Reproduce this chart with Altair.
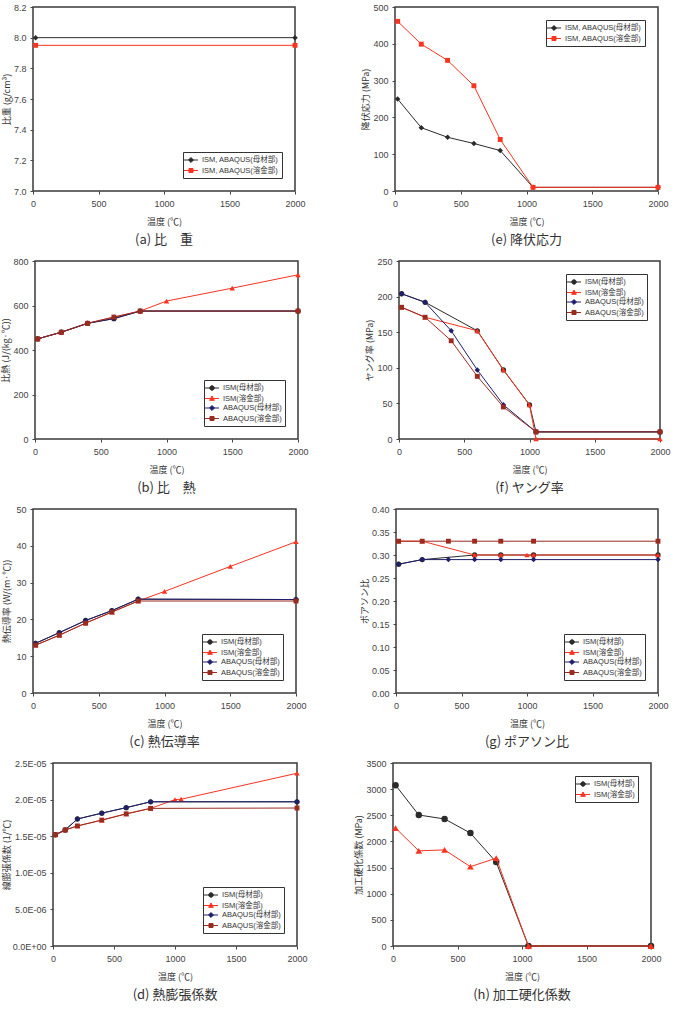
import altair as alt
import pandas as pd

# ---------------- data ----------------
TEMP_TICKS = [0, 500, 1000, 1500, 2000]

# (a) specific gravity
A_X = [20, 2000]
A_BASE = [8.0, 8.0]
A_WELD = [7.95, 7.95]

# (e) yield stress
E_X = [20, 200, 400, 600, 800, 1050, 2000]
E_BASE = [250, 172, 146, 129, 110, 10, 10]
E_WELD = [461, 399, 355, 286, 140, 10, 10]

# (b) specific heat
B_X_ISM_BASE = [20, 200, 400, 600, 800, 2000]
B_ISM_BASE = [450, 480, 520, 541, 575, 575]
B_X_ISM_WELD = [20, 200, 400, 600, 800, 1000, 1500, 2000]
B_ISM_WELD = [450, 480, 520, 548, 575, 620, 678, 738]
B_X_ABQ = [20, 200, 400, 600, 800, 2000]
B_ABQ_BASE = [450, 480, 520, 541, 575, 575]
B_ABQ_WELD = [450, 480, 520, 548, 575, 575]

# (f) Young's modulus
F_X_ISM = [20, 200, 600, 800, 1000, 1050, 2000]
F_ISM_BASE = [204, 192, 152, 97, 48, 10, 10]
F_ISM_WELD = [185, 171, 152, 97, 48, 0, 0]
F_X_ABQ = [20, 200, 400, 600, 800, 1050, 2000]
F_ABQ_BASE = [204, 192, 152, 97, 48, 10, 10]
F_ABQ_WELD = [185, 171, 138, 88, 45, 10, 10]

# (c) thermal conductivity
C_X_BASE = [20, 200, 400, 600, 800, 2000]
C_ISM_BASE = [13.5, 16.4, 19.7, 22.4, 25.5, 25.4]
C_X_ISM_WELD = [20, 200, 400, 600, 800, 1000, 1500, 2000]
C_ISM_WELD = [13.0, 15.7, 19.0, 22.0, 25.0, 27.6, 34.4, 41.1]
C_ABQ_BASE = [13.5, 16.4, 19.7, 22.4, 25.5, 25.4]
C_ABQ_WELD = [13.0, 15.7, 19.0, 22.0, 25.0, 25.0]

# (g) Poisson's ratio
G_X_ISM_BASE = [20, 200, 600, 800, 1050, 2000]
G_ISM_BASE = [0.28, 0.29, 0.30, 0.30, 0.30, 0.30]
G_X_ISM_WELD = [20, 200, 600, 800, 1000, 1050, 2000]
G_ISM_WELD = [0.33, 0.33, 0.30, 0.30, 0.30, 0.30, 0.30]
G_X_ABQ = [20, 200, 400, 600, 800, 1050, 2000]
G_ABQ_BASE = [0.28, 0.29, 0.29, 0.29, 0.29, 0.29, 0.29]
G_ABQ_WELD = [0.33, 0.33, 0.33, 0.33, 0.33, 0.33, 0.33]

# (d) thermal expansion coefficient (x 1e-6)
D_X_BASE = [20, 100, 200, 400, 600, 800, 2000]
D_ISM_BASE = [15.2, 15.85, 17.35, 18.15, 18.9, 19.7, 19.7]
D_X_ISM_WELD = [20, 100, 200, 400, 600, 800, 1000, 1050, 2000]
D_ISM_WELD = [15.2, 15.85, 16.4, 17.2, 18.05, 18.8, 20.0, 20.05, 23.6]
D_ABQ_BASE = [15.2, 15.85, 17.35, 18.15, 18.9, 19.7, 19.7]
D_ABQ_WELD = [15.2, 15.85, 16.4, 17.2, 18.05, 18.8, 18.85]
D_TICKS = [0, 5, 10, 15, 20, 25]

# (h) work hardening coefficient
H_X = [20, 200, 400, 600, 800, 1050, 2000]
H_ISM_BASE = [3075, 2505, 2430, 2160, 1605, 0, 0]
H_ISM_WELD = [2255, 1820, 1838, 1517, 1680, 0, 0]

# ---------------- styles ----------------
FONT = "Noto Sans CJK JP"
NUM_FONT = "Liberation Sans, Noto Sans CJK JP"
BLACK, RED, NAVY, MAROON = "#2b2b2b", "#f8331f", "#1f1f6e", "#9a2b1f"

LINE_BAR = "M-1.55,0H1.55"
P_CIRCLE = LINE_BAR + "M0.5,0A0.5,0.5 0 1,1 -0.5,0A0.5,0.5 0 1,1 0.5,0Z"
P_TRI = LINE_BAR + "M0,-0.55L0.52,0.4L-0.52,0.4Z"
P_DIAM = LINE_BAR + "M0,-0.55L0.55,0L0,0.55L-0.55,0Z"
P_SQ = LINE_BAR + "M-0.45,-0.45H0.45V0.45H-0.45Z"

STY = {
    "ISM(母材部)": (BLACK, "circle", 28, P_CIRCLE),
    "ISM(溶金部)": (RED, "triangle-up", 30, P_TRI),
    "ABAQUS(母材部)": (NAVY, "diamond", 30, P_DIAM),
    "ABAQUS(溶金部)": (MAROON, "square", 24, P_SQ),
    "ISM, ABAQUS(母材部)": (BLACK, "diamond", 30, P_DIAM),
    "ISM, ABAQUS(溶金部)": (RED, "square", 24, P_SQ),
}

INDEP = dict(fill="independent", stroke="independent", shape="independent")


def panel(series, ydom, yticks, ytitle, caption, w, h, orient, yfmt="d", ylabelexpr=None,
          scale_y=1.0, lab_pad=4, title_pad=2, min_ext=20, pt_scale=1.0):
    xenc = alt.X("x:Q", scale=alt.Scale(domain=[0, 2000], nice=False),
                 axis=alt.Axis(values=TEMP_TICKS, format="d", title="温度 (℃)", titlePadding=9))
    axis_kw = dict(values=[v * scale_y for v in yticks], title=ytitle, labelPadding=lab_pad,
                   titlePadding=title_pad, minExtent=min_ext, labelOverlap=False)
    if yfmt:
        axis_kw["format"] = yfmt
    if ylabelexpr:
        axis_kw["labelExpr"] = ylabelexpr
    yenc = alt.Y("y:Q", scale=alt.Scale(domain=[v * scale_y for v in ydom], nice=False, zero=False),
                 axis=alt.Axis(**axis_kw))
    layers = []
    frames = []
    for name, xs, ys in series:
        col, shp, sz, _ = STY[name]
        df = pd.DataFrame({"x": xs, "y": [v * scale_y for v in ys], "s": name})
        frames.append(df)
        layers.append(alt.Chart(df).mark_line(color=col, strokeWidth=1).encode(x=xenc, y=yenc))
        layers.append(alt.Chart(df).mark_point(filled=True, shape=shp, size=sz * pt_scale, color=col, opacity=1)
                      .encode(x=xenc, y=yenc))
    names = [s[0] for s in series]
    cols = [STY[n][0] for n in names]
    paths = [STY[n][3] for n in names]
    leg = alt.Legend(title=None, orient=orient, offset=13, symbolSize=81, symbolStrokeWidth=1,
                     strokeColor="#333", fillColor="white", padding=3, rowPadding=0.5,
                     labelFontSize=7.5, labelFont=NUM_FONT, labelColor="#333", labelOffset=6)
    alld = pd.concat(frames)
    layers.append(
        alt.Chart(alld).transform_filter("false").mark_point(filled=True, opacity=1, size=81, strokeWidth=1).encode(
            x=xenc, y=yenc,
            fill=alt.Fill("s:N", scale=alt.Scale(domain=names, range=cols), legend=leg),
            stroke=alt.Stroke("s:N", scale=alt.Scale(domain=names, range=cols), legend=leg),
            shape=alt.Shape("s:N", scale=alt.Scale(domain=names, range=paths), legend=leg),
        )
    )
    return alt.layer(*layers).properties(
        width=w, height=h,
        title=alt.TitleParams(caption, orient="bottom", anchor="middle", frame="group", offset=8,
                              fontSize=13, font=FONT, fontWeight="normal", color="#333"),
    )


pa = panel([("ISM, ABAQUS(母材部)", A_X, A_BASE), ("ISM, ABAQUS(溶金部)", A_X, A_WELD)],
           [7.0, 8.2], [7.0, 7.2, 7.4, 7.6, 7.8, 8.0, 8.2], "比重 (g/cm³)", "(a) 比　重",
           262, 184, "bottom-right", yfmt=".1f")
pe = panel([("ISM, ABAQUS(母材部)", E_X, E_BASE), ("ISM, ABAQUS(溶金部)", E_X, E_WELD)],
           [0, 500], [0, 100, 200, 300, 400, 500], "降伏応力 (MPa)", "(e) 降伏応力",
           263, 184, "top-right")
pb = panel([("ISM(母材部)", B_X_ISM_BASE, B_ISM_BASE), ("ISM(溶金部)", B_X_ISM_WELD, B_ISM_WELD),
            ("ABAQUS(母材部)", B_X_ABQ, B_ABQ_BASE), ("ABAQUS(溶金部)", B_X_ABQ, B_ABQ_WELD)],
           [0, 800], [0, 200, 400, 600, 800], "比熱 (J/(kg·℃))", "(b) 比　熱",
           263, 178, "bottom-right")
pf = panel([("ISM(母材部)", F_X_ISM, F_ISM_BASE), ("ISM(溶金部)", F_X_ISM, F_ISM_WELD),
            ("ABAQUS(母材部)", F_X_ABQ, F_ABQ_BASE), ("ABAQUS(溶金部)", F_X_ABQ, F_ABQ_WELD)],
           [0, 250], [0, 50, 100, 150, 200, 250], "ヤング率 (MPa)", "(f) ヤング率",
           261, 178, "top-right")
pc = panel([("ISM(母材部)", C_X_BASE, C_ISM_BASE), ("ISM(溶金部)", C_X_ISM_WELD, C_ISM_WELD),
            ("ABAQUS(母材部)", C_X_BASE, C_ABQ_BASE), ("ABAQUS(溶金部)", C_X_BASE, C_ABQ_WELD)],
           [0, 50], [0, 10, 20, 30, 40, 50], "熱伝導率 (W/(m·℃))", "(c) 熱伝導率",
           263, 184, "bottom-right")
pg = panel([("ISM(母材部)", G_X_ISM_BASE, G_ISM_BASE), ("ISM(溶金部)", G_X_ISM_WELD, G_ISM_WELD),
            ("ABAQUS(母材部)", G_X_ABQ, G_ABQ_BASE), ("ABAQUS(溶金部)", G_X_ABQ, G_ABQ_WELD)],
           [0, 0.4], [0, 0.05, 0.1, 0.15, 0.2, 0.25, 0.3, 0.35, 0.4], "ポアソン比", "(g) ポアソン比",
           262, 184, "bottom-right", yfmt=".2f")
pd_ = panel([("ISM(母材部)", D_X_BASE, D_ISM_BASE), ("ISM(溶金部)", D_X_ISM_WELD, D_ISM_WELD),
             ("ABAQUS(母材部)", D_X_BASE, D_ABQ_BASE), ("ABAQUS(溶金部)", D_X_BASE, D_ABQ_WELD)],
            [0, 25], D_TICKS, "線膨張係数 (1/℃)", "(d) 熱膨張係数",
            244, 183, "bottom-right", yfmt=None,
            ylabelexpr="datum.value < 1e-9 ? '0.0E+00' : replace(format(datum.value, '.1e'), 'e-', 'E-0')",
            scale_y=1e-6, lab_pad=4, title_pad=1)
ph = panel([("ISM(母材部)", H_X, H_ISM_BASE), ("ISM(溶金部)", H_X, H_ISM_WELD)],
           [0, 3500], [0, 500, 1000, 1500, 2000, 2500, 3000, 3500], "加工硬化係数 (MPa)", "(h) 加工硬化係数",
           258, 183, "top-right", pt_scale=1.5)


def spacer():
    return (alt.Chart(pd.DataFrame({"x": [0]})).transform_filter("false").mark_point()
            .encode(x=alt.X("x:Q", axis=None), y=alt.Y("x:Q", axis=None))
            .properties(width=1, height=1, view=alt.ViewBackground(stroke=None)))


def row(left, right, gap):
    inner = alt.hconcat(left, right, spacing=gap).resolve_scale(**INDEP)
    return alt.hconcat(spacer(), inner, spacing=0).resolve_scale(**INDEP)


rows = [
    row(pa, pe, 55),
    row(pb, pf, 56),
    row(pc, pg, 52),
    row(pd_, ph, 46),
]

chart = alt.vconcat(*rows, spacing=8).resolve_scale(**INDEP).properties(
    padding={"left": 0, "top": 2, "right": 0, "bottom": 0}
).configure_view(
    stroke="#3a3a3a", strokeWidth=1.5
).configure_axis(
    domain=False, grid=False, tickSize=3, tickColor="#444", tickWidth=1, labelFlush=False,
    labelFont=NUM_FONT, labelFontSize=9, labelColor="#444", labelPadding=5,
    titleFont=FONT, titleFontSize=9, titleFontWeight="normal", titleColor="#333",
)

chart.save("out.html", embed_options={"renderer": "svg", "actions": False})
